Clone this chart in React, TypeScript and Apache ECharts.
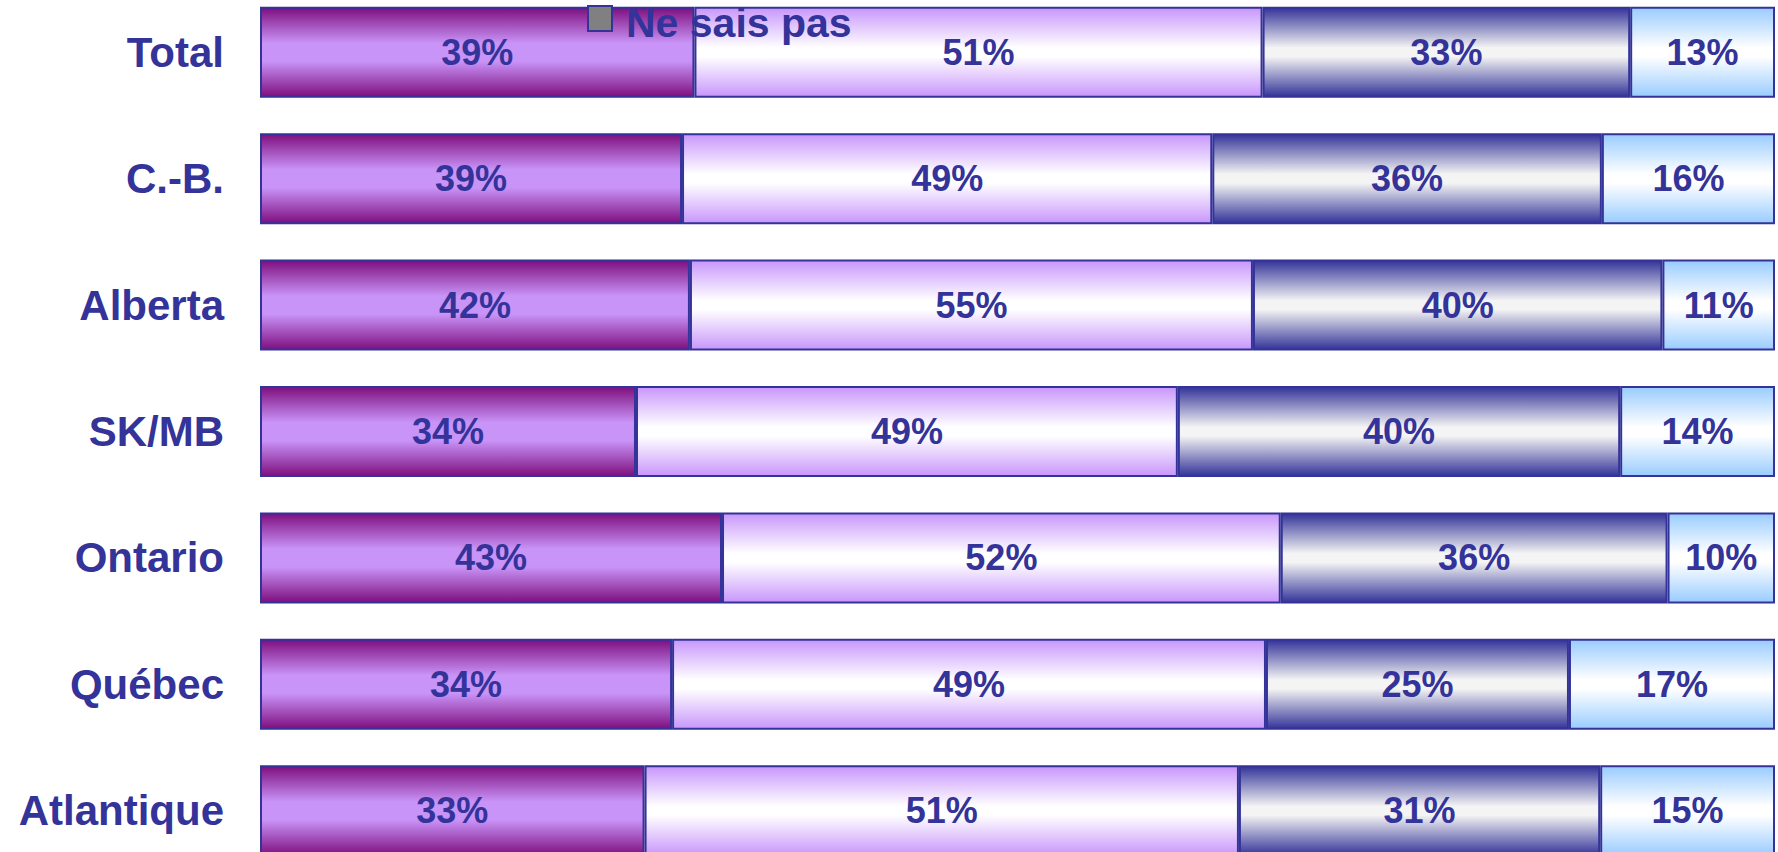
import React, { useEffect, useRef } from "react";
import * as echarts from "echarts";

const categories = ["Total", "C.-B.", "Alberta", "SK/MB", "Ontario", "Québec", "Atlantique"];
const seriesNames = ["Série 1", "Série 2", "Série 3", "Ne sais pas"];
const s1 = [39, 39, 42, 34, 43, 34, 33];
const s2 = [51, 49, 55, 49, 52, 49, 51];
const s3 = [33, 36, 40, 40, 36, 25, 31];
const s4 = [13, 16, 11, 14, 10, 17, 15];
const legendLabel = "Ne sais pas";

const BLUE = "#333399";
const OFFSET = 11;

const grad = (edge: string, mid: string, a = 0.42, b = 0.58) =>
  new echarts.graphic.LinearGradient(0, 0, 0, 1, [
    { offset: 0, color: edge },
    { offset: a, color: mid },
    { offset: b, color: mid },
    { offset: 1, color: edge },
  ]);

export default function App() {
  const ref = useRef<HTMLDivElement>(null);
  useEffect(() => {
    document.body.style.margin = "0";
    if (!ref.current) return;
    const chart = echarts.init(ref.current, null, { renderer: "svg" });
    const all = [s1, s2, s3, s4];
    const sums = categories.map((_, i) => all.reduce((acc, s) => acc + s[i], 0));
    const fills = [
      grad("#7e0f7f", "#c994f8", 0.4, 0.6),
      grad("#c896fb", "#ffffff", 0.45, 0.55),
      grad("#333399", "#f4f4f4", 0.45, 0.55),
      grad("#99ccff", "#ffffff", 0.45, 0.55),
    ];
    const series = all.map((vals, si) => ({
      name: seriesNames[si],
      type: "bar",
      stack: "total",
      barWidth: 91,
      data: vals.map((v, i) => (v / sums[i]) * 100),
      itemStyle: { color: fills[si], borderColor: BLUE, borderWidth: 2 },
      label: {
        show: true,
        position: "inside",
        formatter: (p: any) => vals[p.dataIndex] + "%",
        color: BLUE,
        fontSize: 36,
        fontWeight: "bold",
        fontFamily: "Liberation Sans, Arial, sans-serif",
      },
    }));
    chart.setOption({
      animation: false,
      grid: { left: 260, right: 3, top: 0, bottom: 0, containLabel: false },
      xAxis: { type: "value", min: 0, max: 100, show: false },
      yAxis: {
        type: "category",
        data: categories,
        inverse: true,
        axisLine: { show: false },
        axisTick: { show: false },
        splitLine: { show: false },
        axisLabel: {
          margin: 36,
          color: BLUE,
          fontSize: 42,
          fontWeight: "bold",
          fontFamily: "Liberation Sans, Arial, sans-serif",
        },
      },
      series,
      graphic: [
        {
          type: "rect",
          z: 100,
          shape: { x: 588, y: 6 + OFFSET, width: 24, height: 25 },
          style: { fill: "#808080", stroke: BLUE, lineWidth: 2 },
        },
        {
          type: "text",
          z: 100,
          x: 626,
          y: OFFSET + 2,
          style: {
            text: legendLabel,
            fill: BLUE,
            font: "bold 41px 'Liberation Sans', Arial, sans-serif",
            verticalAlign: "top",
            align: "left",
          },
        },
      ],
    });
    return () => chart.dispose();
  }, []);
  return (
    <div style={{ position: "relative", width: 1778, height: 852, overflow: "hidden" }}>
      <div
        ref={ref}
        style={{ position: "absolute", left: 0, top: -OFFSET, width: 1778, height: 885 }}
      />
    </div>
  );
}
